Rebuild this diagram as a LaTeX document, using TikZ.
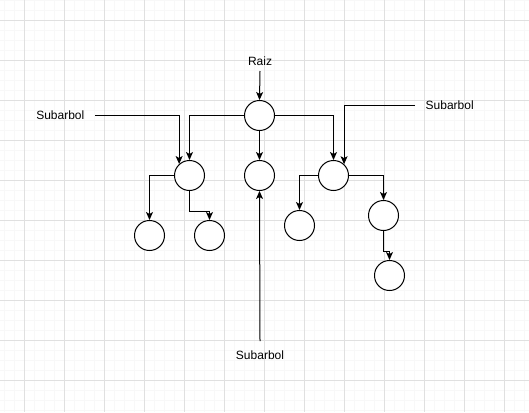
\documentclass[tikz,border=0pt]{standalone}
\usepackage{fontspec}
\setmainfont{Liberation Sans}
\usetikzlibrary{arrows.meta}
\definecolor{gridmajor}{RGB}{224,224,224}
\definecolor{gridminor}{RGB}{248,248,248}
\tikzset{
  vert/.style={circle, draw=black, fill=white, line width=1pt, minimum size=30pt, inner sep=0pt},
  lbl/.style={font=\fontsize{12pt}{14pt}\selectfont, inner xsep=10.5pt, inner ysep=10pt, text height=8.5pt, text depth=0pt},
  conn/.style={draw=black, line width=1pt, -{Stealth[length=8pt,width=7pt,inset=2pt]}},
}
\begin{document}
\begin{tikzpicture}[x=1pt,y=-1pt]
\useasboundingbox (0,0) rectangle (529,412);
\fill[white] (0,0) rectangle (529,412);
% grid
\foreach \x in {4.5,14.5,...,524.5} \draw[gridminor, line width=1pt] (\x,0) -- (\x,412);
\foreach \y in {0.5,10.5,...,410.5} \draw[gridminor, line width=1pt] (0,\y) -- (529,\y);
\foreach \x in {24.5,64.5,...,504.5} \draw[gridmajor, line width=1pt] (\x,0) -- (\x,412);
\foreach \y in {20.5,60.5,...,380.5} \draw[gridmajor, line width=1pt] (0,\y) -- (529,\y);
% nodes
\node[vert] (root) at (259.5,115.5) {};
\node[vert] (A) at (189.5,175.5) {};
\node[vert] (B) at (259.5,175.5) {};
\node[vert] (C) at (333.5,175.5) {};
\node[vert] (AA) at (149.5,235.5) {};
\node[vert] (AB) at (209.5,235.5) {};
\node[vert] (CA) at (299.5,225.5) {};
\node[vert] (CB) at (383.5,215.5) {};
\node[vert] (CBB) at (389.5,275.5) {};
% labels
\node[lbl, inner ysep=5pt, anchor=south] (raiz) at (260,71) {Raiz};
\node[lbl, anchor=east] (lsub) at (95,115.5) {Subarbol};
\node[lbl, anchor=west] (rsub) at (415,105.5) {Subarbol};
\node[lbl, anchor=north] (bsub) at (260,341) {Subarbol};
% connectors
\draw[conn] (raiz.south) -- (root.north);
\draw[conn] (root.west) -| (A.north);
\draw[conn] (root) -- (B);
\draw[conn] (root.east) -| (C.north);
\draw[conn] (lsub.east) -| (A.132);
\draw[conn] (rsub.west) -| (C.47);
\draw[conn] (bsub.north) -- (B.south);
\draw[conn] (A.west) -| (AA.north);
\draw[conn] (A.south) -- ++(0,20) -| (AB.north);
\draw[conn] (C.west) -| (CA.north);
\draw[conn] (C.east) -| (CB.north);
\draw[conn] (CB.south) -- ++(0,20) -| (CBB.north);
\end{tikzpicture}
\end{document}
